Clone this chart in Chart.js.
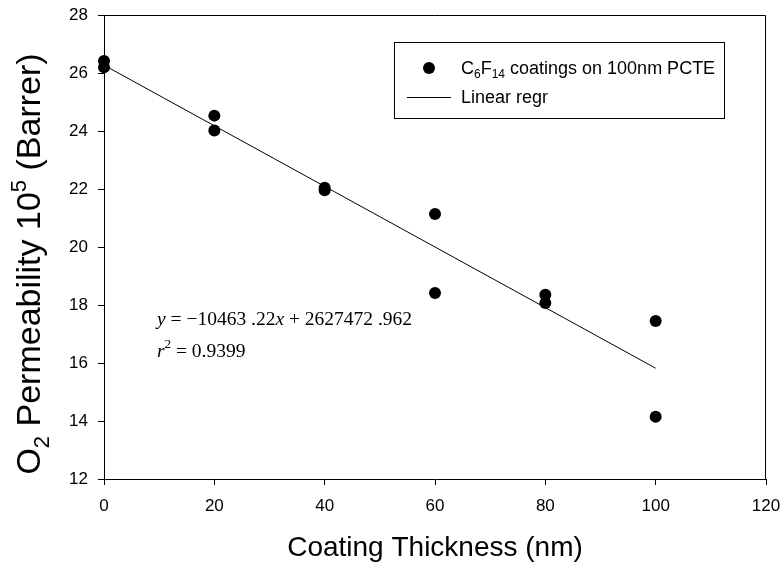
<!DOCTYPE html>
<html>
<head>
<meta charset="utf-8">
<script src="https://cdn.jsdelivr.net/npm/chart.js@4/dist/chart.umd.min.js"></script>
<style>
  html, body { margin: 0; padding: 0; background: #fff; }
  #wrap { width: 781px; height: 567px; }
</style>
</head>
<body>
<div id="wrap"><canvas id="chart"></canvas></div>
<script>
const thickness = [0, 0, 20, 20, 40, 40, 60, 60, 80, 80, 100, 100];
const permeability = [26.41, 26.20, 24.53, 24.02, 22.04, 21.96, 21.14, 18.41, 18.35, 18.07, 17.45, 14.15];

// regression line end points
const fitX = [0, 100];
const fitY = [26.27, 15.82];

const xTicks = [0, 20, 40, 60, 80, 100, 120];
const yTicks = [12, 14, 16, 18, 20, 22, 24, 26, 28];

const SANS = "'Liberation Sans', Arial, sans-serif";
const SERIF = "'Liberation Serif', 'Times New Roman', serif";

// draw a run of [text, font, dy] pieces starting at x, returns end x
function drawRun(ctx, parts, x, y) {
  parts.forEach(([txt, font, dy]) => {
    ctx.font = font;
    ctx.fillText(txt, x, y + (dy || 0));
    x += ctx.measureText(txt).width;
  });
  return x;
}
function runWidth(ctx, parts) {
  let w = 0;
  parts.forEach(([txt, font]) => {
    ctx.font = font;
    w += ctx.measureText(txt).width;
  });
  return w;
}

const extras = {
  id: "extras",
  afterDraw(chart) {
    const { ctx, chartArea: a } = chart;
    ctx.save();
    ctx.strokeStyle = "#000";
    ctx.fillStyle = "#000";
    ctx.lineWidth = 1;

    // top + right frame
    ctx.beginPath();
    ctx.moveTo(a.left, a.top + 0.5);
    ctx.lineTo(a.right - 0.5, a.top + 0.5);
    ctx.lineTo(a.right - 0.5, a.bottom);
    ctx.stroke();

    // legend box
    ctx.strokeRect(394.5, 42.5, 330, 76);
    ctx.beginPath();
    ctx.arc(429, 68, 6, 0, Math.PI * 2);
    ctx.fill();
    ctx.textBaseline = "alphabetic";
    ctx.textAlign = "left";
    const big = "18px " + SANS;
    const small = "12px " + SANS;
    drawRun(ctx, [
      ["C", big], ["6", small, 4], ["F", big], ["14", small, 4],
      [" coatings on 100nm PCTE", big]
    ], 461, 74);
    ctx.beginPath();
    ctx.moveTo(407, 97.5);
    ctx.lineTo(451, 97.5);
    ctx.stroke();
    drawRun(ctx, [["Linear regr", big]], 461, 103);

    // regression equation
    const ser = "19.5px " + SERIF;
    const serI = "italic 19.5px " + SERIF;
    drawRun(ctx, [
      ["y", serI], [" = \u221210463 .22", ser], ["x", serI], [" + 2627472 .962", ser]
    ], 157, 325);
    drawRun(ctx, [
      ["r", serI], ["2", "13px " + SERIF, -9], [" = 0.9399", ser]
    ], 157, 357);

    // y axis title with sub/superscript
    const tf = "34px " + SANS;
    const tfs = "22px " + SANS;
    const parts = [
      ["O", tf], ["2", tfs, 9], [" Permeability 10", tf], ["5", tfs, -14], [" (Barrer)", tf]
    ];
    const w = runWidth(ctx, parts);
    ctx.translate(40, 264);
    ctx.rotate(-Math.PI / 2);
    drawRun(ctx, parts, -w / 2, 0);
    ctx.restore();
  }
};

const tickFont = { family: SANS, size: 17 };

new Chart(document.getElementById("chart"), {
  type: "scatter",
  data: {
    datasets: [
      {
        label: "C6F14 coatings on 100nm PCTE",
        data: thickness.map((x, i) => ({ x, y: permeability[i] })),
        backgroundColor: "#000",
        borderWidth: 0,
        pointRadius: 6,
        pointHoverRadius: 6,
        clip: false,
      },
      {
        label: "Linear regr",
        type: "line",
        data: fitX.map((x, i) => ({ x, y: fitY[i] })),
        borderColor: "#000",
        borderWidth: 1,
        pointRadius: 0,
        fill: false,
      },
    ],
  },
  options: {
    responsive: true,
    maintainAspectRatio: false,
    animation: false,
    layout: { padding: { left: 0, top: 15, right: 15, bottom: 0 } },
    plugins: {
      legend: { display: false },
      tooltip: { enabled: false },
    },
    scales: {
      x: {
        type: "linear",
        min: 0,
        max: 120,
        afterBuildTicks: (s) => { s.ticks = xTicks.map((v) => ({ value: v })); },
        ticks: { color: "#000", font: tickFont, padding: 11, maxRotation: 0 },
        grid: { display: true, drawOnChartArea: false, drawTicks: true, tickLength: 6, color: "#000" },
        border: { display: true, color: "#000", width: 1 },
        title: {
          display: true,
          text: "Coating Thickness (nm)",
          color: "#000",
          font: { family: SANS, size: 28 },
          padding: { top: 4, bottom: 2 },
        },
        afterFit: (s) => {
          s.height = 88;
          s.paddingLeft = 0;
          s.paddingRight = 0;
        },
      },
      y: {
        type: "linear",
        min: 12,
        max: 28,
        afterBuildTicks: (s) => { s.ticks = yTicks.map((v) => ({ value: v })); },
        ticks: { color: "#000", font: tickFont, padding: 10 },
        grid: { display: true, drawOnChartArea: false, drawTicks: true, tickLength: 6, color: "#000" },
        border: { display: true, color: "#000", width: 1 },
        afterFit: (s) => {
          s.width = 104;
          s.paddingTop = 0;
          s.paddingBottom = 0;
        },
      },
    },
  },
  plugins: [extras],
});
</script>
</body>
</html>
